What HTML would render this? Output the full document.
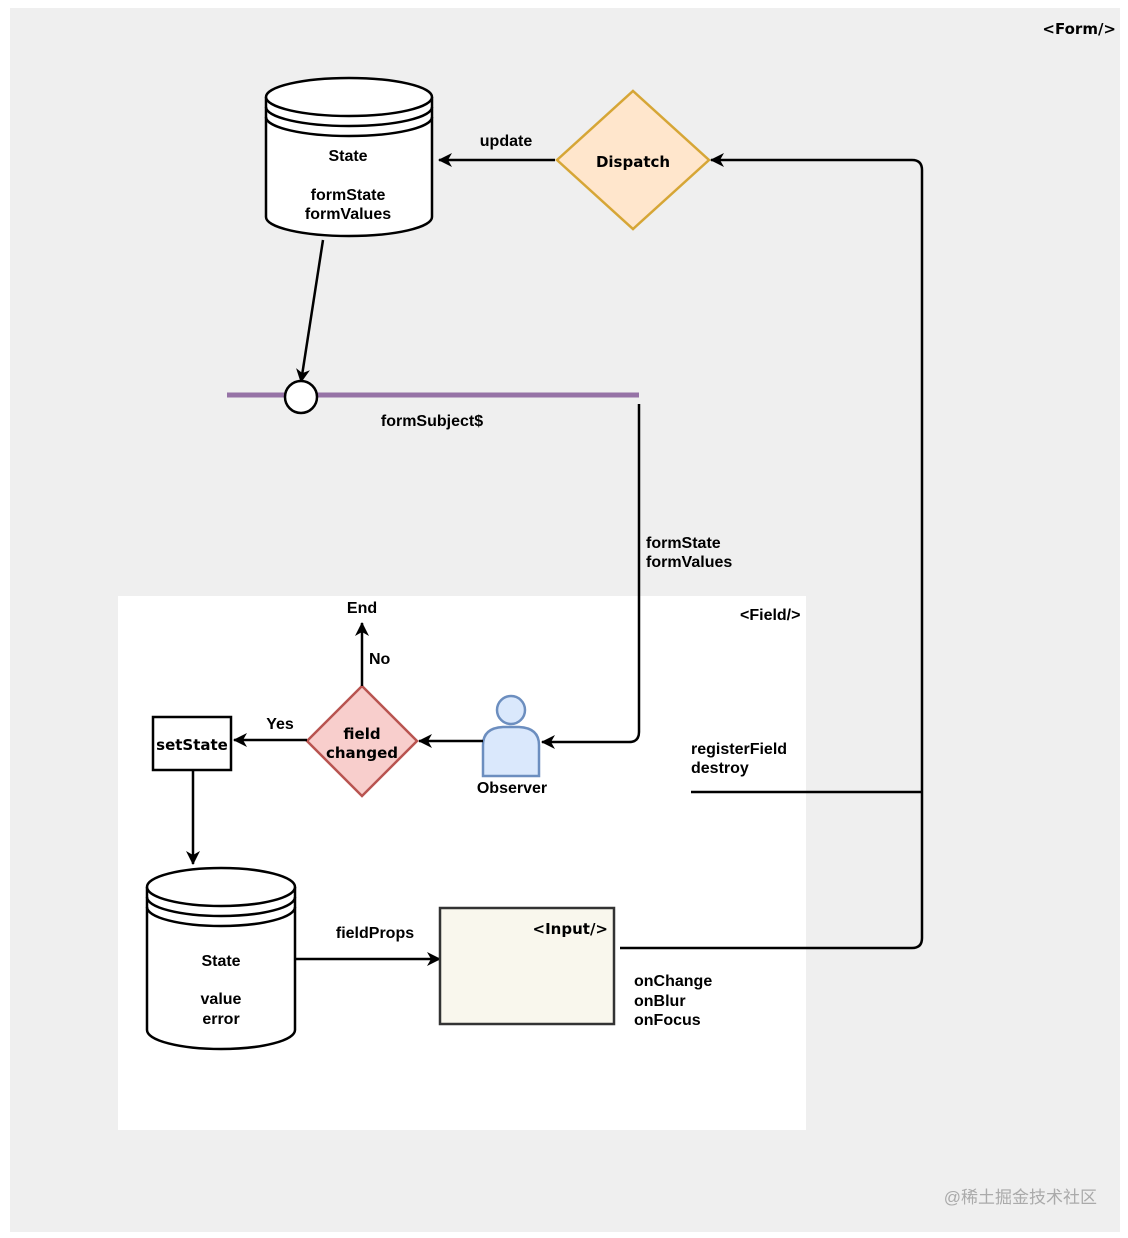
<!DOCTYPE html>
<html><head><meta charset="utf-8"><style>
html,body{margin:0;padding:0;background:#fff;}
svg{display:block;}
text{font-family:"Liberation Sans",sans-serif;font-weight:bold;font-size:16px;fill:#000;}
.c{font-family:"DejaVu Sans",sans-serif;font-size:15px;}
</style></head><body>
<svg width="1128" height="1238" viewBox="0 0 1128 1238" xmlns="http://www.w3.org/2000/svg">
<defs>
<marker id="a" viewBox="0 0 14 14" refX="13" refY="7" markerWidth="14" markerHeight="14" markerUnits="userSpaceOnUse" orient="auto">
<path d="M0,0 L14,7 L0,14 L4,7 Z" fill="#000"/></marker>
</defs>
<rect x="10" y="8" width="1110" height="1224" fill="#efefef"/>
<rect x="118" y="596" width="688" height="534" fill="#fff"/>
<text x="1116" y="34" text-anchor="end" class="c" font-size="14">&lt;Form/&gt;</text>
<text x="740" y="620" font-size="15">&lt;Field/&gt;</text>

<g fill="#fff" stroke="#000" stroke-width="2.5">
<path d="M266,97 L266,217 A83,19 0 0 0 432,217 L432,97"/>
<ellipse cx="349" cy="97" rx="83" ry="19"/>
</g>
<path d="M266,107 A83,19 0 0 0 432,107 M266,117 A83,19 0 0 0 432,117" fill="none" stroke="#000" stroke-width="2.5"/>
<text x="348" y="161" text-anchor="middle">State</text>
<text x="348" y="200" text-anchor="middle">formState</text>
<text x="348" y="219" text-anchor="middle">formValues</text>

<polygon points="633,91 709,160 633,229 557,160" fill="#ffe6cc" stroke="#d6a636" stroke-width="2.5"/>
<text x="633" y="167" text-anchor="middle" class="c">Dispatch</text>
<line x1="555" y1="160" x2="439" y2="160" stroke="#000" stroke-width="2.5" marker-end="url(#a)"/>
<text x="506" y="146" text-anchor="middle">update</text>

<path d="M620,948 L912,948 Q922,948 922,938 L922,170 Q922,160 912,160 L711,160" fill="none" stroke="#000" stroke-width="2.5" marker-end="url(#a)"/>
<line x1="691" y1="792" x2="922" y2="792" stroke="#000" stroke-width="2.5"/>
<text x="691" y="754">registerField</text>
<text x="691" y="773">destroy</text>

<line x1="227" y1="395" x2="639" y2="395" stroke="#9673a6" stroke-width="5"/>
<line x1="323" y1="240" x2="301" y2="382" stroke="#000" stroke-width="2.5" marker-end="url(#a)"/>
<circle cx="301" cy="397" r="16" fill="#fff" stroke="#000" stroke-width="2.5"/>
<text x="432" y="426" text-anchor="middle">formSubject$</text>
<path d="M639,404 L639,732 Q639,742 629,742 L542,742" fill="none" stroke="#000" stroke-width="2.5" marker-end="url(#a)"/>
<text x="646" y="548">formState</text>
<text x="646" y="567">formValues</text>

<circle cx="511" cy="710" r="14" fill="#dae8fc" stroke="#6c8ebf" stroke-width="2.5"/>
<path d="M483,776 L483,745 Q483,728 503,727 L519,727 Q539,728 539,745 L539,776 Z" fill="#dae8fc" stroke="#6c8ebf" stroke-width="2.5"/>
<text x="512" y="793" text-anchor="middle">Observer</text>
<line x1="483" y1="741" x2="419" y2="741" stroke="#000" stroke-width="2.5" marker-end="url(#a)"/>

<polygon points="362,686 417,741 362,796 307,741" fill="#f8cecc" stroke="#b85450" stroke-width="2.5"/>
<text x="362" y="739" text-anchor="middle" class="c" font-size="14">field</text>
<text x="362" y="758" text-anchor="middle" class="c" font-size="14">changed</text>
<line x1="362" y1="686" x2="362" y2="623" stroke="#000" stroke-width="2.5" marker-end="url(#a)"/>
<text x="362" y="613" text-anchor="middle">End</text>
<text x="369" y="664">No</text>
<line x1="307" y1="740" x2="234" y2="740" stroke="#000" stroke-width="2.5" marker-end="url(#a)"/>
<text x="280" y="729" text-anchor="middle">Yes</text>

<rect x="153" y="717" width="78" height="53" fill="#fff" stroke="#000" stroke-width="2.5"/>
<text x="192" y="750" text-anchor="middle" class="c" font-size="13">setState</text>
<line x1="193" y1="770" x2="193" y2="864" stroke="#000" stroke-width="2.5" marker-end="url(#a)"/>

<g fill="#fff" stroke="#000" stroke-width="2.5">
<path d="M147,887 L147,1030 A74,19 0 0 0 295,1030 L295,887"/>
<ellipse cx="221" cy="887" rx="74" ry="19"/>
</g>
<path d="M147,897 A74,19 0 0 0 295,897 M147,907 A74,19 0 0 0 295,907" fill="none" stroke="#000" stroke-width="2.5"/>
<text x="221" y="966" text-anchor="middle">State</text>
<text x="221" y="1004" text-anchor="middle">value</text>
<text x="221" y="1024" text-anchor="middle">error</text>
<line x1="295" y1="959" x2="440" y2="959" stroke="#000" stroke-width="2.5" marker-end="url(#a)"/>
<text x="375" y="938" text-anchor="middle">fieldProps</text>

<rect x="440" y="908" width="174" height="116" fill="#f9f7ed" stroke="#333" stroke-width="2.5"/>
<text x="608" y="934" text-anchor="end" class="c" font-size="14">&lt;Input/&gt;</text>
<text x="634" y="986">onChange</text>
<text x="634" y="1006">onBlur</text>
<text x="634" y="1025">onFocus</text>

<text x="1097" y="1203" text-anchor="end" style="font-weight:normal;fill:#aaa;font-size:17px;font-family:'Liberation Sans','Noto Sans CJK SC',sans-serif">@稀土掘金技术社区</text>
</svg>
</body></html>
